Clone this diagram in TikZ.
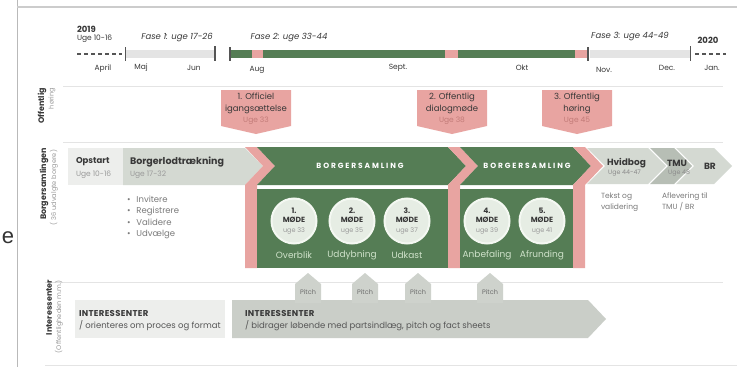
\documentclass[tikz,border=0pt]{standalone}
\usepackage{fontspec}
\setmainfont{Poppins}
\newfontfamily\artfont{Liberation Sans}
\usetikzlibrary{calc}
\definecolor{dgreen}{HTML}{557D55}
\definecolor{pinkc}{HTML}{E8A4A1}
\definecolor{pinkt}{HTML}{C27B78}
\definecolor{lgray}{HTML}{E4E4E4}
\definecolor{mgray}{HTML}{D4D9D2}
\definecolor{tgray}{HTML}{B7BEB5}
\definecolor{txt}{HTML}{383838}
\definecolor{soft}{HTML}{9A9A9A}
\definecolor{cfill}{HTML}{E6EDE4}
\definecolor{cring}{HTML}{F4F8F2}
\definecolor{clabel}{HTML}{CFE2CA}
\definecolor{linec}{HTML}{E4E4E4}
\definecolor{box1}{HTML}{EDEEEC}
\definecolor{box2}{HTML}{CACEC8}
\definecolor{pitchc}{HTML}{CED2CC}
\definecolor{tick}{HTML}{555555}
\tikzset{
  every node/.style={inner sep=0pt, outer sep=0pt, text=txt},
  tl/.style={font=\fontsize{8.5}{9}\selectfont\itshape},
  mon/.style={font=\fontsize{7.5}{8}\selectfont},
  call/.style={font=\fontsize{8.5}{11.5}\selectfont, align=center, text=txt},
  hd/.style={font=\fontsize{9}{10}\selectfont\bfseries, anchor=west},
  sub/.style={font=\fontsize{7.5}{8}\selectfont, anchor=west, text=soft},
  bul/.style={font=\fontsize{8.5}{9}\selectfont, anchor=west, text=soft!80!black},
  banner/.style={font=\fontsize{7.5}{8}\selectfont\bfseries\addfontfeature{LetterSpace=25}, text=white},
  circ/.style={circle, minimum size=45pt, fill=cfill, draw=cring, line width=2pt, font=\fontsize{7.5}{9.5}\selectfont\bfseries, align=center},
  clab/.style={font=\fontsize{9}{9.5}\selectfont, text=clabel},
  rowa/.style={font=\fontsize{8}{8.5}\selectfont\bfseries, rotate=90, anchor=east},
  rowb/.style={font=\fontsize{6.6}{7}\selectfont, rotate=90, anchor=east, text=soft},
  pitchlab/.style={font=\fontsize{6.5}{7}\selectfont, text=soft!70!black},
  sep/.style={draw=linec, line width=0.8pt},
  chev/.style={font=\fontsize{9}{10}\selectfont\bfseries, anchor=west},
  chevsub/.style={font=\fontsize{6.3}{7}\selectfont, anchor=west, text=soft!90!black},
  note/.style={font=\fontsize{7.5}{11}\selectfont, align=left, anchor=north west, text=soft!80!black},
  ihd/.style={font=\fontsize{8.5}{9}\selectfont\bfseries\addfontfeature{LetterSpace=4}, anchor=west},
  isub/.style={font=\fontsize{8.5}{9}\selectfont, anchor=west, text=txt!85},
}
\begin{document}
\begin{tikzpicture}[x=1pt,y=-1pt]
\useasboundingbox (0,0) rectangle (737,367);
\fill[white] (0,0) rectangle (737,367);
% frame lines
\draw[draw=gray!55, line width=0.9pt] (17,0) -- (17,367);
\draw[draw=gray!40, line width=1.5pt] (17,7) -- (737,7);
\node[font=\artfont\fontsize{22}{22}\selectfont, text=black!80] (e) at (8,238) {e};
% separators
\draw[sep] (63,86) -- (723,86);
\draw[sep] (63,142) -- (723,142);
\draw[sep] (45,282) -- (723,282);
\draw[sep] (45,365) -- (737,365);

% ---------- timeline ----------
\draw[tick, line width=1.1pt, dash pattern=on 4pt off 3pt] (77,54) -- (122,54);
\fill[lgray] (126,50) rectangle (215,58);
\draw[tick, line width=1pt] (125,47) -- (125,61);
\draw[tick, line width=1.8pt] (215,46) -- (215,61);
\fill[dgreen] (230,50) rectangle (588,58);
\fill[pinkc] (252,50) rectangle (263,58);
\fill[pinkc] (445,50) rectangle (458,58);
\fill[pinkc] (575,50) rectangle (587,58);
\draw[tick, line width=1.5pt] (230,47) -- (230,61);
\draw[tick, line width=1.5pt] (588,47) -- (588,61);
\fill[lgray] (590,50) rectangle (690,58);
\draw[tick, line width=1pt] (690,46) -- (690,61);
\draw[tick, line width=1.1pt, dash pattern=on 4pt off 3pt] (695,54) -- (726,54);
\node[font=\fontsize{8.5}{9}\selectfont\bfseries, anchor=west] (y2019) at (77,29) {2019};
\node[font=\fontsize{7.5}{8}\selectfont, anchor=west] (u2019) at (77,39) {Uge 10-16};
\node[tl] (f1) at (177,38) {Fase 1: uge 17-26};
\node[tl] (f2) at (289,38) {Fase 2: uge 33-44};
\node[tl] (f3) at (630,37) {Fase 3: uge 44-49};
\node[font=\fontsize{8.5}{9}\selectfont\bfseries] (y2020) at (708,40) {2020};
\node[mon] (mapr) at (103,69) {April};
\node[mon] (mmaj) at (141,68) {Maj};
\node[mon] (mjun) at (194,68) {Jun};
\node[mon] (maug) at (257,70) {Aug};
\node[mon] (msep) at (398,68) {Sept.};
\node[mon] (mokt) at (522,68) {Okt};
\node[mon] (mnov) at (604,70) {Nov.};
\node[mon] (mdec) at (667,68) {Dec.};
\node[mon] (mjan) at (712,68) {Jan.};

% ---------- row labels ----------
\node[rowa] (la2) at (42,88) {Offentlig};
\node[rowb] (lb2) at (52,88) {høring};
\node[rowa] (la3) at (44,148) {Borgersamlingen};
\node[rowb] (lb3) at (54,150) {(~36 udvalgte borgere)};
\node[rowa] (la4) at (49,280) {Interessenter};
\node[rowb] (lb4) at (59,280) {(Offentligheden m.m.)};

% ---------- callouts ----------
\foreach \c/\n in {256/1,452/2,577/3}{
  \fill[pinkc] (\c-35,90) -- (\c+35,90) -- (\c+35,126) -- (\c,134) -- (\c-35,126) -- cycle;
}
\node[call] (c1) at (256,109) {1. Officiel\\igangsættelse\\{\color{pinkt}\fontsize{7.5}{8}\selectfont Uge 33}};
\node[call] (c2) at (452,109) {2. Offentlig\\dialogmøde\\{\color{pinkt}\fontsize{7.5}{8}\selectfont Uge 38}};
\node[call] (c3) at (577,109) {3. Offentlig\\høring\\{\color{pinkt}\fontsize{7.5}{8}\selectfont Uge 45}};

% ---------- borgersamling row ----------
\fill[box1] (68,148) rectangle (123,185);
\fill[mgray] (123,148) -- (245,148) -- (263,166) -- (245,185) -- (123,185) -- cycle;
\fill[pinkc] (245,147) -- (257,147) -- (275,166) -- (257,185) -- (257,268) -- (245,268) -- (245,185) -- (263,166) -- cycle;
\fill[dgreen] (257,147) -- (448,147) -- (466,166) -- (448,185) -- (257,185) -- (275,166) -- cycle;
\fill[dgreen] (257,189) rectangle (448,268);
\fill[pinkc] (448,147) -- (460,147) -- (478,166) -- (460,185) -- (460,268) -- (448,268) -- (448,185) -- (466,166) -- cycle;
\fill[dgreen] (460,147) -- (573,147) -- (591,166) -- (573,185) -- (460,185) -- (478,166) -- cycle;
\fill[dgreen] (460,189) rectangle (573,268);
\fill[pinkc] (573,147) -- (585,147) -- (603,166) -- (585,185) -- (585,268) -- (573,268) -- (573,185) -- (591,166) -- cycle;
\fill[mgray] (587,148) -- (648,148) -- (666,166) -- (648,184) -- (587,184) -- (605,166) -- cycle;
\fill[tgray] (650,148) -- (674,148) -- (692,166) -- (674,184) -- (650,184) -- (668,166) -- cycle;
\fill[mgray] (676,148) -- (714,148) -- (732,166) -- (714,184) -- (676,184) -- (694,166) -- cycle;

\node[hd, font=\fontsize{8.5}{9}\selectfont\bfseries] (opstart) at (76,162) {Opstart};
\node[sub] (opuge) at (76,175) {Uge 10-16};
\node[hd, font=\fontsize{9.5}{10}\selectfont\bfseries] (lod) at (130,162) {Borgerlodtrækning};
\node[sub] (loduge) at (130,175) {Uge 17-32};
\node[bul] (b1) at (127,199) {\textbullet\hspace{6pt}Invitere};
\node[bul] (b2) at (127,211) {\textbullet\hspace{6pt}Registrere};
\node[bul] (b3) at (127,222) {\textbullet\hspace{6pt}Validere};
\node[bul] (b4) at (127,234) {\textbullet\hspace{6pt}Udvælge};
\node[banner] (bs1) at (360,166) {BORGERSAMLING};
\node[banner] (bs2) at (527,166) {BORGERSAMLING};
\node[chev] (hvid) at (607,163) {Hvidbog};
\node[chevsub] (hviduge) at (608,173) {Uge 44-47};
\node[chev] (tmu) at (667,163) {TMU};
\node[chevsub] (tmuuge) at (668,173) {Uge 48};
\node[chev] (br) at (704,166) {BR};
\node[note] (tekst) at (601,193) {Tekst og\\validering};
\node[note] (afl) at (662,193) {Aflevering til\\TMU / BR};

% circles
\foreach \x/\n/\u/\l in {294/1/33/Overblik,352/2/35/Uddybning,407/3/37/Udkast,487/4/39/Anbefaling,542/5/41/Afrunding}{
  \node[circ] (m\n) at (\x,221) {\n.\\MØDE\\{\mdseries\color{soft}\fontsize{6.5}{7}\selectfont uge \u}};
  \node[clab] (ml\n) at (\x,255) {\l};
}

% ---------- interessenter row ----------
\fill[box1] (75,300) rectangle (225,338);
\fill[box2] (232,300) -- (588,300) -- (606,319) -- (588,338) -- (232,338) -- cycle;
\foreach \c/\n in {308/1,365/2,418/3,490/4}{
  \fill[pitchc] (\c-13,303) -- (\c-13,284) -- (\c,273) -- (\c+13,284) -- (\c+13,303) -- cycle;
  \node[pitchlab] (p\n) at (\c,292) {Pitch};
}
\node[ihd] (i1) at (79,313) {INTERESSENTER};
\node[isub] (i1s) at (79,326) {/ orienteres om proces og format};
\node[ihd] (i2) at (245,313) {INTERESSENTER};
\node[isub] (i2s) at (245,326) {/ bidrager løbende med partsindlæg, pitch og fact sheets};
\end{tikzpicture}
\end{document}
